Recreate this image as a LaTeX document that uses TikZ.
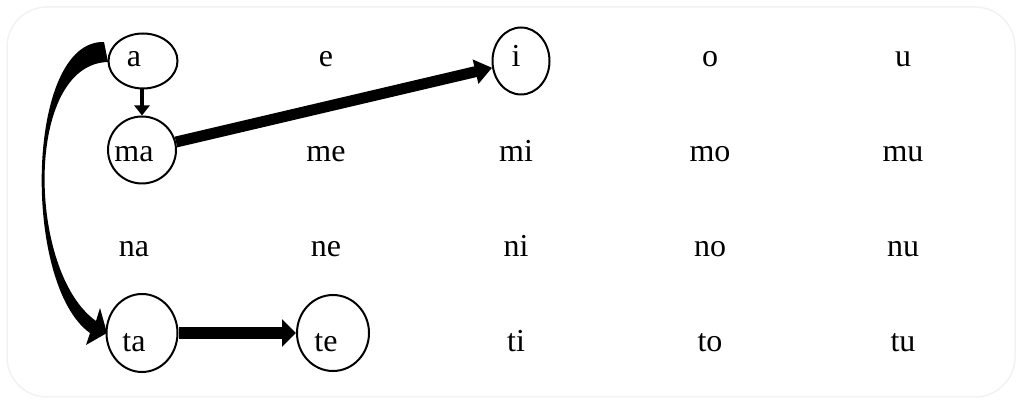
\documentclass[tikz,border=0pt]{standalone}
\usepackage{fontspec}
\setmainfont{Liberation Serif}
\usetikzlibrary{shapes.geometric,arrows.meta}
\begin{document}
\begin{tikzpicture}[x=1pt,y=-1pt,
  syl/.style={anchor=base,inner sep=0pt,font=\fontsize{32}{38}\selectfont},
  ring/.style={draw,ellipse,line width=2pt,inner sep=0pt},
  conn/.style={line width=#1}]
\useasboundingbox (0,0) rectangle (1021,403);
\draw[draw=black!5,line width=1.5pt,rounded corners=40pt] (7,7) rectangle (1015,397);
% ellipses
\node[ring,minimum width=69pt,minimum height=55pt] (a) at (143,61) {};
\node[ring,minimum width=68pt,minimum height=67pt] (ma) at (142,150) {};
\node[ring,minimum width=57pt,minimum height=67pt] (i) at (521,61) {};
\node[ring,minimum width=71pt,minimum height=78pt] (ta) at (142,333) {};
\node[ring,minimum width=72pt,minimum height=76pt] (te) at (333,333) {};
% syllables
\node[syl] (t-a) at (134,67) {a};
\node[syl] (t-e) at (326,67) {e};
\node[syl] (t-i) at (516,67) {i};
\node[syl] (t-o) at (710,67) {o};
\node[syl] (t-u) at (903,67) {u};
\node[syl] (t-ma) at (134,162) {ma};
\node[syl] (t-me) at (326,162) {me};
\node[syl] (t-mi) at (516,162) {mi};
\node[syl] (t-mo) at (710,162) {mo};
\node[syl] (t-mu) at (903,162) {mu};
\node[syl] (t-na) at (134,257) {na};
\node[syl] (t-ne) at (326,257) {ne};
\node[syl] (t-ni) at (516,257) {ni};
\node[syl] (t-no) at (710,257) {no};
\node[syl] (t-nu) at (903,257) {nu};
\node[syl] (t-ta) at (134,352) {ta};
\node[syl] (t-te) at (326,352) {te};
\node[syl] (t-ti) at (516,352) {ti};
\node[syl] (t-to) at (710,352) {to};
\node[syl] (t-tu) at (903,352) {tu};
% connectors
\draw[conn=4pt,-{Triangle[width=15pt,length=10pt]}] (ma.north |- a.south) -- (ma.north);
\draw[conn=11pt,-{Triangle[width=24pt,length=17pt]}] (ma) -- (i);
\draw[conn=12pt,-{Triangle[width=27pt,length=14pt]}] (ta) -- (te);
% curved tapered arrow from a to ta
\coordinate (cs1) at (104,42);
\coordinate (cs2) at (108,62);
\coordinate (ce1) at (90,333);
\coordinate (ce2) at (96,321);
\coordinate (tip) at (107,333);
\fill (cs1) .. controls (25,40) and (22,285) .. (ce1) -- (86,345) -- (tip) -- (100,308) -- (ce2)
      .. controls (27,272) and (24,64) .. (cs2) -- cycle;
\end{tikzpicture}
\end{document}
